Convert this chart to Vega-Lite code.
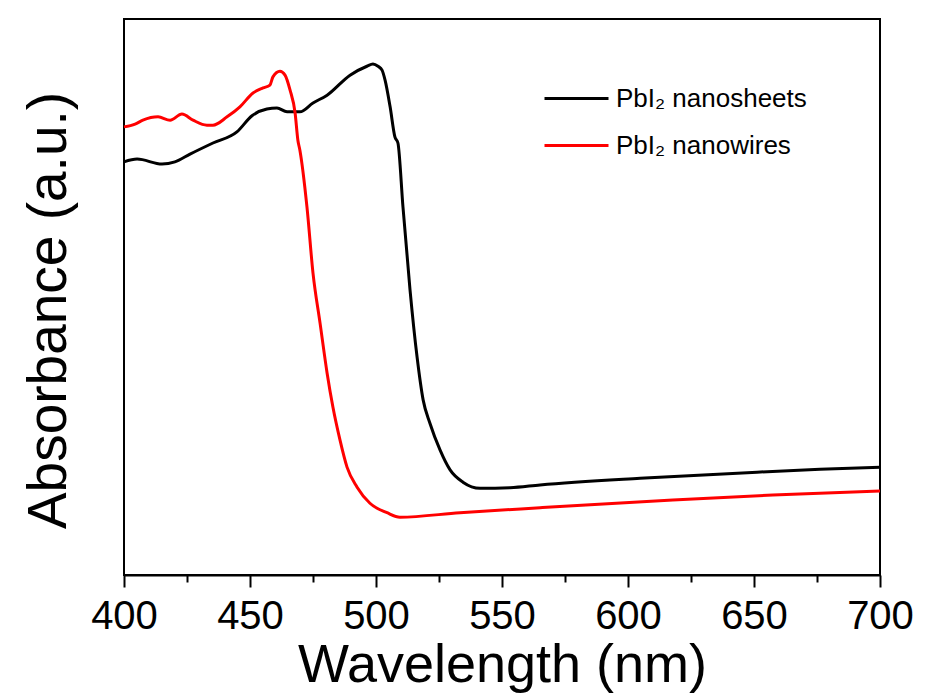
{
  "$schema": "https://vega.github.io/schema/vega-lite/v6.json",
  "width": 756,
  "height": 556,
  "autosize": {"type": "none"},
  "padding": {"left": 124, "top": 19, "right": 45, "bottom": 122},
  "background": "white",
  "config": {
    "view": {"stroke": "black", "strokeWidth": 2},
    "font": "Liberation Sans"
  },
  "data": {
    "values": [
      {"sample": "PbI₂ nanosheets", "wl": 400, "abs": 0.743},
      {"sample": "PbI₂ nanosheets", "wl": 405.2, "abs": 0.748},
      {"sample": "PbI₂ nanosheets", "wl": 415.1, "abs": 0.739},
      {"sample": "PbI₂ nanosheets", "wl": 420.2, "abs": 0.743},
      {"sample": "PbI₂ nanosheets", "wl": 426.2, "abs": 0.757},
      {"sample": "PbI₂ nanosheets", "wl": 435.3, "abs": 0.777},
      {"sample": "PbI₂ nanosheets", "wl": 444.8, "abs": 0.797},
      {"sample": "PbI₂ nanosheets", "wl": 450.8, "abs": 0.826},
      {"sample": "PbI₂ nanosheets", "wl": 456.7, "abs": 0.838},
      {"sample": "PbI₂ nanosheets", "wl": 460.7, "abs": 0.840},
      {"sample": "PbI₂ nanosheets", "wl": 464.7, "abs": 0.833},
      {"sample": "PbI₂ nanosheets", "wl": 469.8, "abs": 0.833},
      {"sample": "PbI₂ nanosheets", "wl": 475.0, "abs": 0.849},
      {"sample": "PbI₂ nanosheets", "wl": 480.6, "abs": 0.863},
      {"sample": "PbI₂ nanosheets", "wl": 489.7, "abs": 0.899},
      {"sample": "PbI₂ nanosheets", "wl": 496.4, "abs": 0.915},
      {"sample": "PbI₂ nanosheets", "wl": 498.8, "abs": 0.919},
      {"sample": "PbI₂ nanosheets", "wl": 500.8, "abs": 0.915},
      {"sample": "PbI₂ nanosheets", "wl": 502.4, "abs": 0.908},
      {"sample": "PbI₂ nanosheets", "wl": 503.6, "abs": 0.890},
      {"sample": "PbI₂ nanosheets", "wl": 505.6, "abs": 0.842},
      {"sample": "PbI₂ nanosheets", "wl": 507.5, "abs": 0.788},
      {"sample": "PbI₂ nanosheets", "wl": 508.7, "abs": 0.777},
      {"sample": "PbI₂ nanosheets", "wl": 510.7, "abs": 0.662},
      {"sample": "PbI₂ nanosheets", "wl": 513.5, "abs": 0.513},
      {"sample": "PbI₂ nanosheets", "wl": 516.3, "abs": 0.392},
      {"sample": "PbI₂ nanosheets", "wl": 518.7, "abs": 0.315},
      {"sample": "PbI₂ nanosheets", "wl": 521.4, "abs": 0.273},
      {"sample": "PbI₂ nanosheets", "wl": 525.4, "abs": 0.225},
      {"sample": "PbI₂ nanosheets", "wl": 529.4, "abs": 0.189},
      {"sample": "PbI₂ nanosheets", "wl": 534.5, "abs": 0.167},
      {"sample": "PbI₂ nanosheets", "wl": 541.3, "abs": 0.156},
      {"sample": "PbI₂ nanosheets", "wl": 553.2, "abs": 0.157},
      {"sample": "PbI₂ nanosheets", "wl": 565.1, "abs": 0.162},
      {"sample": "PbI₂ nanosheets", "wl": 604.8, "abs": 0.174},
      {"sample": "PbI₂ nanosheets", "wl": 651.2, "abs": 0.185},
      {"sample": "PbI₂ nanosheets", "wl": 676.2, "abs": 0.190},
      {"sample": "PbI₂ nanosheets", "wl": 700, "abs": 0.194},
      {"sample": "PbI₂ nanowires", "wl": 400, "abs": 0.806},
      {"sample": "PbI₂ nanowires", "wl": 404.4, "abs": 0.811},
      {"sample": "PbI₂ nanowires", "wl": 407.5, "abs": 0.818},
      {"sample": "PbI₂ nanowires", "wl": 413.5, "abs": 0.824},
      {"sample": "PbI₂ nanowires", "wl": 418.3, "abs": 0.818},
      {"sample": "PbI₂ nanowires", "wl": 423.0, "abs": 0.829},
      {"sample": "PbI₂ nanowires", "wl": 427.4, "abs": 0.818},
      {"sample": "PbI₂ nanowires", "wl": 432.9, "abs": 0.809},
      {"sample": "PbI₂ nanowires", "wl": 435.3, "abs": 0.809},
      {"sample": "PbI₂ nanowires", "wl": 440.9, "abs": 0.824},
      {"sample": "PbI₂ nanowires", "wl": 446.0, "abs": 0.842},
      {"sample": "PbI₂ nanowires", "wl": 451.2, "abs": 0.867},
      {"sample": "PbI₂ nanowires", "wl": 455.2, "abs": 0.876},
      {"sample": "PbI₂ nanowires", "wl": 457.9, "abs": 0.881},
      {"sample": "PbI₂ nanowires", "wl": 459.1, "abs": 0.896},
      {"sample": "PbI₂ nanowires", "wl": 461.9, "abs": 0.906},
      {"sample": "PbI₂ nanowires", "wl": 463.9, "abs": 0.899},
      {"sample": "PbI₂ nanowires", "wl": 465.9, "abs": 0.872},
      {"sample": "PbI₂ nanowires", "wl": 467.9, "abs": 0.831},
      {"sample": "PbI₂ nanowires", "wl": 469.0, "abs": 0.782},
      {"sample": "PbI₂ nanowires", "wl": 469.8, "abs": 0.764},
      {"sample": "PbI₂ nanowires", "wl": 472.6, "abs": 0.662},
      {"sample": "PbI₂ nanowires", "wl": 475.0, "abs": 0.543},
      {"sample": "PbI₂ nanowires", "wl": 477.8, "abs": 0.453},
      {"sample": "PbI₂ nanowires", "wl": 480.6, "abs": 0.363},
      {"sample": "PbI₂ nanowires", "wl": 482.9, "abs": 0.302},
      {"sample": "PbI₂ nanowires", "wl": 485.7, "abs": 0.243},
      {"sample": "PbI₂ nanowires", "wl": 488.5, "abs": 0.194},
      {"sample": "PbI₂ nanowires", "wl": 492.5, "abs": 0.158},
      {"sample": "PbI₂ nanowires", "wl": 497.6, "abs": 0.129},
      {"sample": "PbI₂ nanowires", "wl": 504.4, "abs": 0.112},
      {"sample": "PbI₂ nanowires", "wl": 509.5, "abs": 0.104},
      {"sample": "PbI₂ nanowires", "wl": 533.3, "abs": 0.112},
      {"sample": "PbI₂ nanowires", "wl": 565.1, "abs": 0.121},
      {"sample": "PbI₂ nanowires", "wl": 617.8, "abs": 0.135},
      {"sample": "PbI₂ nanowires", "wl": 657.5, "abs": 0.144},
      {"sample": "PbI₂ nanowires", "wl": 700, "abs": 0.151}
    ]
  },
  "layer": [
    {
      "mark": {"type": "line", "strokeWidth": 3, "interpolate": "monotone"},
      "encoding": {
        "x": {
          "field": "wl", "type": "quantitative",
          "scale": {"domain": [400, 700], "nice": false},
          "axis": {
            "orient": "bottom",
            "values": [400, 450, 500, 550, 600, 650, 700],
            "title": "Wavelength (nm)",
            "grid": false,
            "domain": true, "domainColor": "black", "domainWidth": 2,
            "ticks": true, "tickColor": "black", "tickWidth": 2, "tickSize": 12,
            "labelFontSize": 40, "labelColor": "black", "labelFont": "Liberation Sans",
            "labelPadding": 9, "labelFlush": false,
            "titleFontSize": 54, "titleFontWeight": "normal", "titleColor": "black",
            "titleFont": "Liberation Sans", "titlePadding": 2
          }
        },
        "y": {
          "field": "abs", "type": "quantitative",
          "scale": {"domain": [0, 1], "nice": false},
          "axis": {
            "title": "Absorbance (a.u.)",
            "labels": false, "ticks": false, "domain": false, "grid": false,
            "titleFontSize": 55, "titleFontWeight": "normal", "titleColor": "black",
            "titleFont": "Liberation Sans",
            "titleAngle": -90, "titleAlign": "center", "titleBaseline": "alphabetic",
            "titleX": -59, "titleY": 291
          }
        },
        "color": {
          "field": "sample", "type": "nominal",
          "scale": {"domain": ["PbI₂ nanosheets", "PbI₂ nanowires"], "range": ["#000000", "#ff0000"]},
          "legend": {
            "orient": "none", "legendX": 419, "legendY": 46,
            "title": null,
            "symbolType": "stroke", "symbolSize": 4096, "symbolStrokeWidth": 3,
            "labelFontSize": 26, "labelFont": "Liberation Sans", "labelColor": "black",
            "labelLimit": 0, "labelOffset": 6, "rowPadding": -3
          }
        }
      }
    },
    {
      "mark": {"type": "rule", "opacity": 0},
      "encoding": {
        "x": {
          "field": "wl", "type": "quantitative",
          "axis": {
            "orient": "bottom",
            "values": [425, 475, 525, 575, 625, 675],
            "title": null, "labels": false, "grid": false, "domain": false,
            "ticks": true, "tickColor": "black", "tickWidth": 2, "tickSize": 7
          }
        }
      }
    }
  ],
  "resolve": {"axis": {"x": "independent"}}
}
